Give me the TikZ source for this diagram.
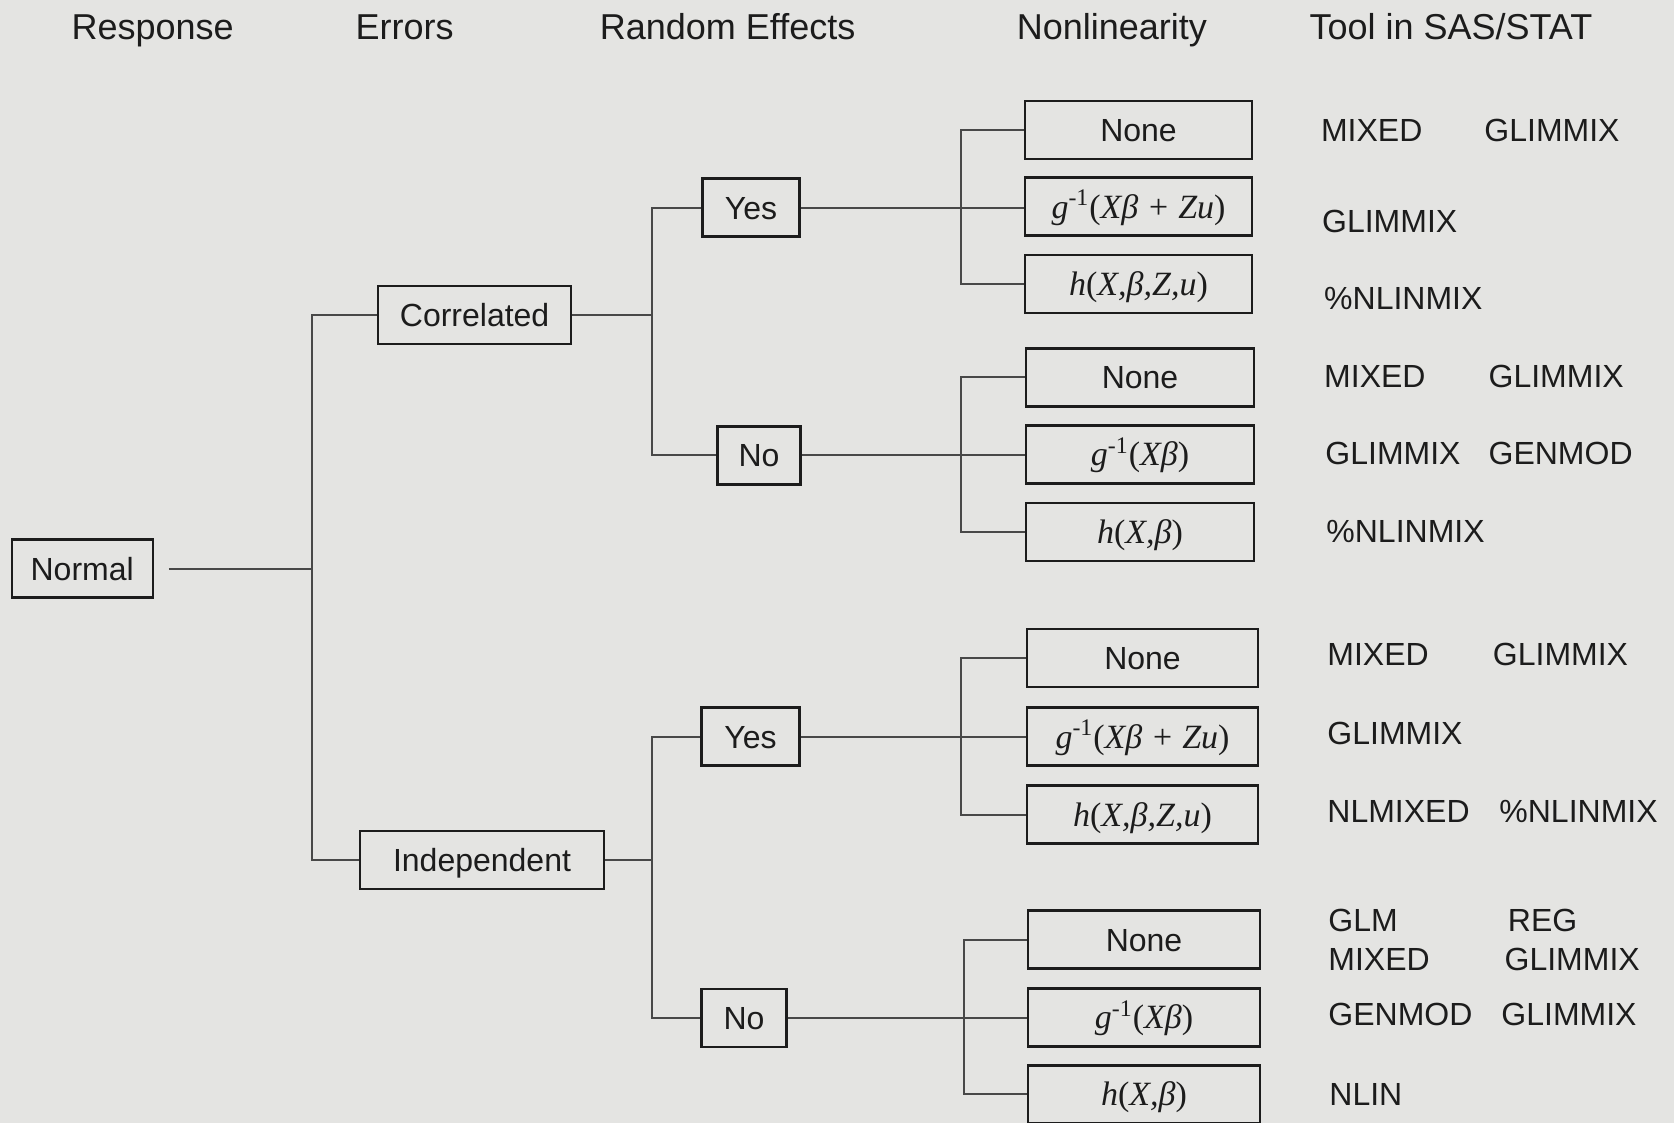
\documentclass[tikz,border=0pt]{standalone}
\usepackage{amsmath}
\usepackage{fontspec}
\setmainfont{Liberation Sans}
\newfontfamily\formfont{Liberation Serif}
\usepackage{tikz}
\usepackage{xcolor}
\usetikzlibrary{positioning}

\definecolor{paper}{RGB}{228,228,226}
\definecolor{ink}{RGB}{28,28,28}
\definecolor{wire}{RGB}{72,72,72}

\newcommand{\fm}[1]{{\formfont\fontsize{17}{20}\selectfont\itshape #1}}
\newcommand{\inv}{\textsuperscript{\upshape -1}}
\newcommand{\lp}{{\upshape(}}
\newcommand{\rp}{{\upshape)}}

\tikzset{
	head/.style={font=\fontsize{18}{21}\selectfont, text=ink, inner sep=0, text height=12.9pt, text depth=0pt},
	choice/.style={draw=ink, line width=1.2pt, minimum height=29pt, inner sep=0, text=ink, text height=11.5pt, text depth=0pt, font=\fontsize{16}{19}\selectfont},
	proc/.style={anchor=west, inner sep=0, text=ink, text height=11.5pt, text depth=0pt, font=\fontsize{16}{19}\selectfont},
	link/.style={draw=wire, line width=1pt},
}

\begin{document}
\begin{tikzpicture}[x=0.5pt, y=-0.5pt]
			\fill[paper] (0,0) rectangle (1674,1123);
			\useasboundingbox (0,0) rectangle (1674,1123);

			% column heads
			\node[head] (hresp) at (152.7,26.7) {Response};
			\node[head] (herr) at (404.6,26.7) {Errors};
			\node[head] (hrand) at (727.6,26.7) {Random Effects};
			\node[head] (hnonlin) at (1111.9,26.7) {Nonlinearity};
			\node[head] (htool) at (1450.9,26.7) {Tool in SAS/STAT};

			% response and errors
			\node[choice, minimum width=70.5pt] (normal) at (82.2,568.5) {Normal};
			\node[choice, minimum width=96.5pt] (corr) at (474.6,315) {Correlated};
			\node[choice, minimum width=122pt] (indep) at (482,860) {Independent};

			% random effects
			\node[choice, minimum width=48.5pt] (yes1) at (751,207.6) {Yes};
			\node[choice, minimum width=41.5pt] (no1) at (759,455.3) {No};
			\node[choice, minimum width=49pt] (yes2) at (750.5,736.6) {Yes};
			\node[choice, minimum width=42.5pt] (no2) at (744,1018) {No};

			% nonlinearity
			\node[choice, minimum width=113.5pt] (a1) at (1138.5,130.2) {None};
			\node[choice, minimum width=113.5pt] (a2) at (1138.5,206.6) {\fm{g\inv\lp Xβ + Zu\rp}};
			\node[choice, minimum width=113.5pt] (a3) at (1138.5,284) {\fm{h\lp X,β,Z,u\rp}};
			\node[choice, minimum width=114pt] (b1) at (1140,377.4) {None};
			\node[choice, minimum width=114pt] (b2) at (1140,454.3) {\fm{g\inv\lp Xβ\rp}};
			\node[choice, minimum width=114pt] (b3) at (1140,531.7) {\fm{h\lp X,β\rp}};
			\node[choice, minimum width=115.5pt] (c1) at (1142.5,658.2) {None};
			\node[choice, minimum width=115.5pt] (c2) at (1142.5,736.6) {\fm{g\inv\lp Xβ + Zu\rp}};
			\node[choice, minimum width=115.5pt] (c3) at (1142.5,814.6) {\fm{h\lp X,β,Z,u\rp}};
			\node[choice, minimum width=116pt] (d1) at (1144,939.5) {None};
			\node[choice, minimum width=116pt] (d2) at (1144,1017.4) {\fm{g\inv\lp Xβ\rp}};
			\node[choice, minimum width=116pt] (d3) at (1144,1094.3) {\fm{h\lp X,β\rp}};

			% junction columns
			\coordinate (j0) at (311.7,0);
			\coordinate (j1) at (652.3,0);
			\coordinate (j2) at (960.8,0);
			\coordinate (j3) at (964,0);

			\draw[link] ([xshift=7.5pt]normal.east) -- (normal.east -| j0);
			\draw[link] (corr.west) -- (corr.west -| j0) |- (indep.west);

			\draw[link] (corr.east) -- (corr.east -| j1);
			\draw[link] (yes1.west) -- (yes1.west -| j1) |- (no1.west);
			\draw[link] (indep.east) -- (indep.east -| j1);
			\draw[link] (yes2.west) -- (yes2.west -| j1) |- (no2.west);

			\draw[link] (yes1.east) -- (yes1.east -| a2.west);
			\draw[link] (a1.west) -- (a1.west -| j2) |- (a3.west);
			\draw[link] (no1.east) -- (no1.east -| b2.west);
			\draw[link] (b1.west) -- (b1.west -| j2) |- (b3.west);
			\draw[link] (yes2.east) -- (yes2.east -| c2.west);
			\draw[link] (c1.west) -- (c1.west -| j2) |- (c3.west);
			\draw[link] (no2.east) -- (no2.east -| d2.west);
			\draw[link] (d1.west) -- (d1.west -| j3) |- (d3.west);

			% tools
			\node[proc] (t1a) at (1320.6,130.2) {MIXED};
			\node[proc] (t1b) at (1484,130.2) {GLIMMIX};
			\node[proc] (t2a) at (1321.7,221) {GLIMMIX};
			\node[proc] (t3a) at (1323.8,297.9) {\%NLINMIX};
			\node[proc] (t4a) at (1323.8,375.8) {MIXED};
			\node[proc] (t4b) at (1488.2,375.8) {GLIMMIX};
			\node[proc] (t5a) at (1325,452.7) {GLIMMIX};
			\node[proc] (t5b) at (1488.2,452.7) {GENMOD};
			\node[proc] (t6a) at (1326,530.6) {\%NLINMIX};
			\node[proc] (t7a) at (1327,654.4) {MIXED};
			\node[proc] (t7b) at (1492.5,654.4) {GLIMMIX};
			\node[proc] (t8a) at (1327,733.4) {GLIMMIX};
			\node[proc] (t9a) at (1327,811.4) {NLMIXED};
			\node[proc] (t9b) at (1499,811.4) {\%NLINMIX};
			\node[proc] (t10a) at (1328,920.3) {GLM};
			\node[proc] (t10b) at (1507.5,920.3) {REG};
			\node[proc] (t10c) at (1328,958.7) {MIXED};
			\node[proc] (t10d) at (1504.2,958.7) {GLIMMIX};
			\node[proc] (t11a) at (1328,1014.2) {GENMOD};
			\node[proc] (t11b) at (1501,1014.2) {GLIMMIX};
			\node[proc] (t12a) at (1329,1094.3) {NLIN};
\end{tikzpicture}
\end{document}
